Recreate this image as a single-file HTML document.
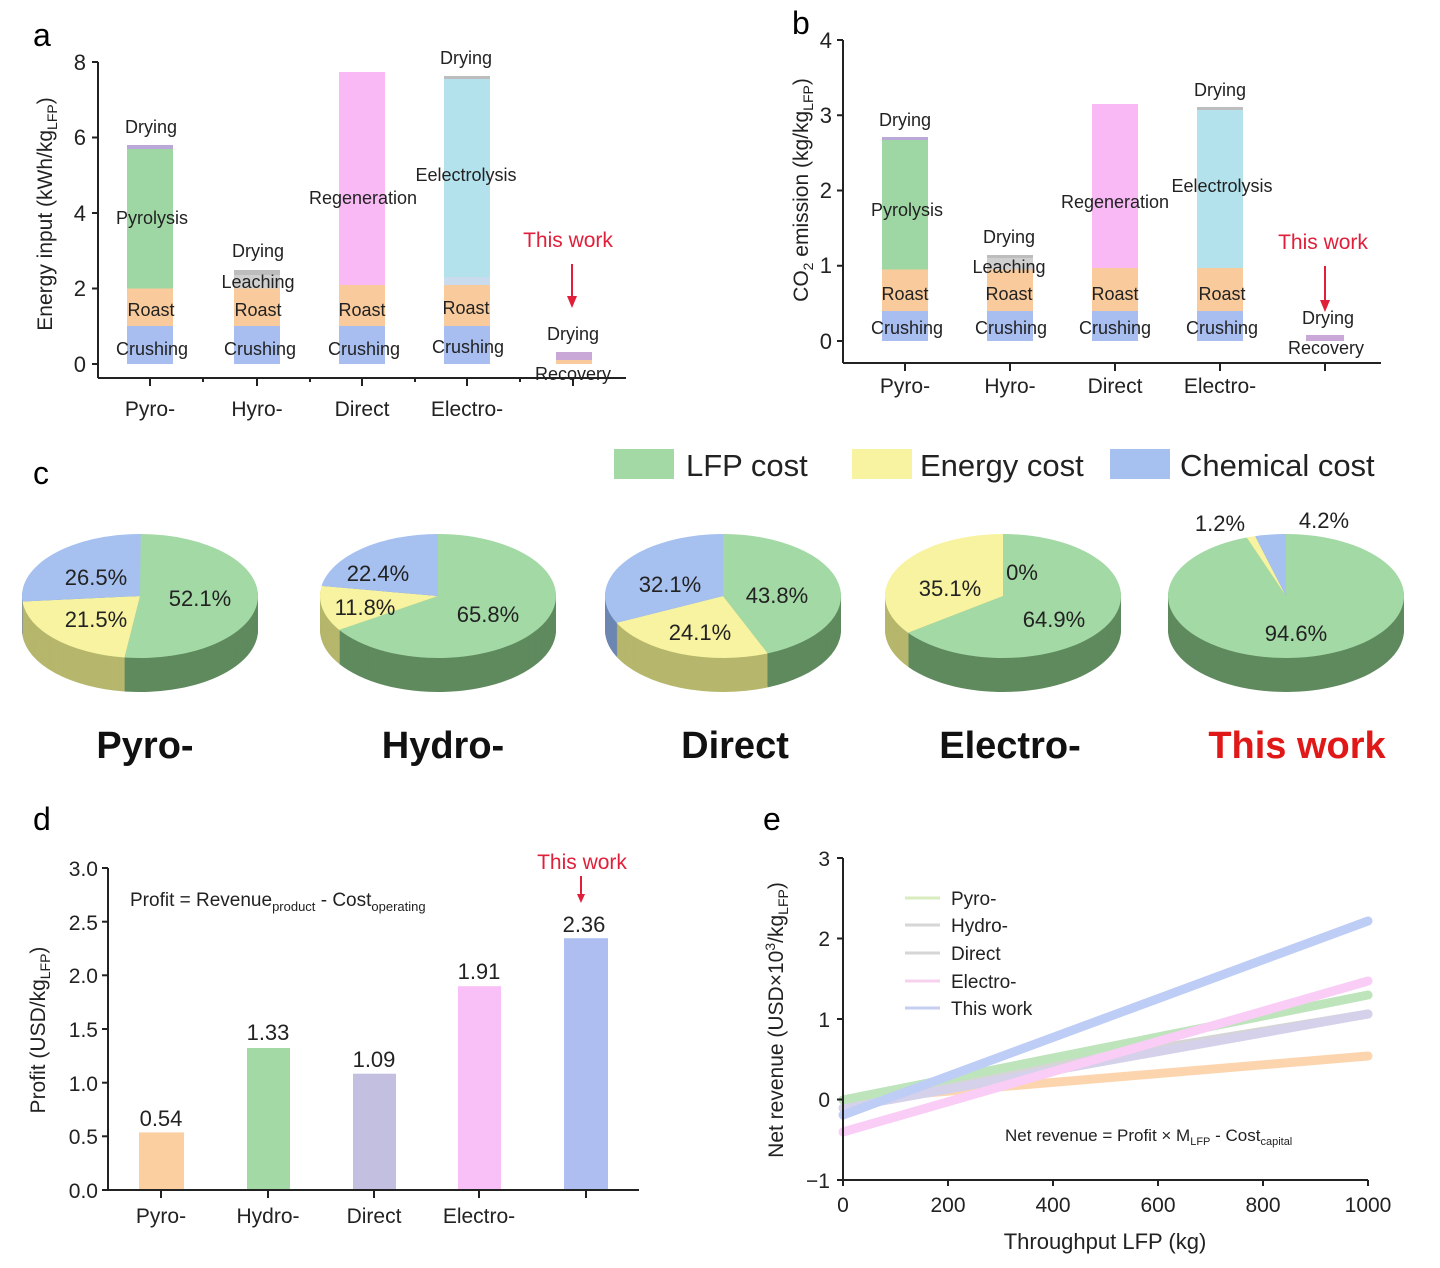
<!DOCTYPE html>
<html><head><meta charset="utf-8"><style>
body{margin:0;background:#fff}
svg{display:block;font-family:"Liberation Sans",Arial,sans-serif}
</style></head><body>
<svg id="s" width="1440" height="1268" viewBox="0 0 1440 1268">
<g id="pies"></g>
<!-- ============ Panel a ============ -->
<text x="33" y="46" font-size="32">a</text>
<g>
<rect x="127" y="326" width="46" height="38" fill="#a8bdf0"/>
<rect x="127" y="288.5" width="46" height="37.5" fill="#f9cb9c"/>
<rect x="127" y="148.8" width="46" height="139.7" fill="#9fd7a4"/>
<rect x="127" y="145" width="46" height="4" fill="#b9a8d8"/>
<rect x="234" y="326" width="46" height="38" fill="#a8bdf0"/>
<rect x="234" y="288.5" width="46" height="37.5" fill="#f9cb9c"/>
<rect x="234" y="275" width="46" height="13.5" fill="#cfcfcf"/>
<rect x="234" y="270" width="46" height="5" fill="#bdbdbd"/>
<rect x="339" y="326" width="46" height="38" fill="#a8bdf0"/>
<rect x="339" y="285" width="46" height="41" fill="#f9cb9c"/>
<rect x="339" y="72" width="46" height="213" fill="#f8b9f4"/>
<rect x="444" y="326" width="46" height="38" fill="#a8bdf0"/>
<rect x="444" y="285" width="46" height="41" fill="#f9cb9c"/>
<rect x="444" y="277" width="46" height="8" fill="#c8dcee"/>
<rect x="444" y="79" width="46" height="198" fill="#b3e2ed"/>
<rect x="444" y="76" width="46" height="3" fill="#bdbdbd"/>
<rect x="556" y="360" width="36" height="4" fill="#f9cb9c"/>
<rect x="556" y="352" width="36" height="8" fill="#c9a8d8"/>
<line x1="98" y1="62" x2="98" y2="378" stroke="#222" stroke-width="2"/>
<line x1="98" y1="378" x2="626" y2="378" stroke="#222" stroke-width="2"/>
<g stroke="#222" stroke-width="2">
<line x1="92" y1="62" x2="98" y2="62"/><line x1="92" y1="137.5" x2="98" y2="137.5"/><line x1="92" y1="213" x2="98" y2="213"/><line x1="92" y1="288.5" x2="98" y2="288.5"/><line x1="92" y1="364" x2="98" y2="364"/>
<line x1="150" y1="378" x2="150" y2="386"/><line x1="257" y1="378" x2="257" y2="386"/><line x1="362" y1="378" x2="362" y2="386"/><line x1="467" y1="378" x2="467" y2="386"/><line x1="573" y1="378" x2="573" y2="386"/>
<line x1="203" y1="378" x2="203" y2="382"/><line x1="310" y1="378" x2="310" y2="382"/><line x1="415" y1="378" x2="415" y2="382"/><line x1="520" y1="378" x2="520" y2="382"/>
</g>
<g font-size="22" text-anchor="end" fill="#222">
<text x="86" y="70">8</text><text x="86" y="145">6</text><text x="86" y="221">4</text><text x="86" y="296">2</text><text x="86" y="372">0</text>
</g>
<g font-size="21" text-anchor="middle" fill="#222">
<text x="150" y="416">Pyro-</text><text x="257" y="416">Hyro-</text><text x="362" y="416">Direct</text><text x="467" y="416">Electro-</text>
</g>
<text transform="translate(52,214) rotate(-90)" font-size="21" text-anchor="middle" fill="#222">Energy input (kWh/kg<tspan font-size="14" dy="5">LFP</tspan><tspan dy="-5">)</tspan></text>
<g font-size="18" text-anchor="middle" fill="#222">
<text x="151" y="133">Drying</text><text x="152" y="224">Pyrolysis</text><text x="151" y="316">Roast</text><text x="152" y="355">Crushing</text>
<text x="258" y="257">Drying</text><text x="258" y="288">Leaching</text><text x="258" y="316">Roast</text><text x="260" y="355">Crushing</text>
<text x="363" y="204">Regeneration</text><text x="362" y="316">Roast</text><text x="364" y="355">Crushing</text>
<text x="466" y="64">Drying</text><text x="466" y="181">Eelectrolysis</text><text x="466" y="314">Roast</text><text x="468" y="353">Crushing</text>
<text x="573" y="340">Drying</text><text x="573" y="380">Recovery</text>
</g>
<text x="568" y="247" font-size="21" text-anchor="middle" fill="#e0203a">This work</text>
<line x1="572" y1="264" x2="572" y2="298" stroke="#e0203a" stroke-width="2"/>
<polygon points="567,296 577,296 572,308" fill="#e0203a"/>
</g>

<!-- ============ Panel b ============ -->
<text x="792" y="34" font-size="32">b</text>
<g>
<rect x="882" y="311" width="46" height="30" fill="#a8bdf0"/>
<rect x="882" y="269.5" width="46" height="41.5" fill="#f9cb9c"/>
<rect x="882" y="140" width="46" height="129.5" fill="#9fd7a4"/>
<rect x="882" y="137" width="46" height="3" fill="#b9a8d8"/>
<rect x="987" y="311" width="46" height="30" fill="#a8bdf0"/>
<rect x="987" y="269.5" width="46" height="41.5" fill="#f9cb9c"/>
<rect x="987" y="258" width="46" height="11.5" fill="#cfcfcf"/>
<rect x="987" y="255" width="46" height="3" fill="#bdbdbd"/>
<rect x="1092" y="311" width="46" height="30" fill="#a8bdf0"/>
<rect x="1092" y="268" width="46" height="43" fill="#f9cb9c"/>
<rect x="1092" y="104" width="46" height="164" fill="#f8b9f4"/>
<rect x="1197" y="311" width="46" height="30" fill="#a8bdf0"/>
<rect x="1197" y="268" width="46" height="43" fill="#f9cb9c"/>
<rect x="1197" y="110" width="46" height="158" fill="#b3e2ed"/>
<rect x="1197" y="107" width="46" height="3" fill="#bdbdbd"/>
<rect x="1306" y="335" width="38" height="6" fill="#c9a8d8"/>
<line x1="843" y1="40" x2="843" y2="363" stroke="#222" stroke-width="2"/>
<line x1="843" y1="363" x2="1381" y2="363" stroke="#222" stroke-width="2"/>
<g stroke="#222" stroke-width="2">
<line x1="837" y1="40" x2="843" y2="40"/><line x1="837" y1="115.25" x2="843" y2="115.25"/><line x1="837" y1="190.5" x2="843" y2="190.5"/><line x1="837" y1="265.75" x2="843" y2="265.75"/><line x1="837" y1="341" x2="843" y2="341"/>
<line x1="905" y1="363" x2="905" y2="371"/><line x1="1010" y1="363" x2="1010" y2="371"/><line x1="1115" y1="363" x2="1115" y2="371"/><line x1="1220" y1="363" x2="1220" y2="371"/><line x1="1325" y1="363" x2="1325" y2="371"/>
</g>
<g font-size="22" text-anchor="end" fill="#222">
<text x="832" y="48">4</text><text x="832" y="123">3</text><text x="832" y="198">2</text><text x="832" y="273">1</text><text x="832" y="349">0</text>
</g>
<g font-size="21" text-anchor="middle" fill="#222">
<text x="905" y="393">Pyro-</text><text x="1010" y="393">Hyro-</text><text x="1115" y="393">Direct</text><text x="1220" y="393">Electro-</text>
</g>
<text transform="translate(808,190) rotate(-90)" font-size="21" text-anchor="middle" fill="#222">CO<tspan font-size="14" dy="5">2</tspan><tspan dy="-5"> emission (kg/kg</tspan><tspan font-size="14" dy="5">LFP</tspan><tspan dy="-5">)</tspan></text>
<g font-size="18" text-anchor="middle" fill="#222">
<text x="905" y="126">Drying</text><text x="907" y="216">Pyrolysis</text><text x="905" y="300">Roast</text><text x="907" y="334">Crushing</text>
<text x="1009" y="243">Drying</text><text x="1009" y="273">Leaching</text><text x="1009" y="300">Roast</text><text x="1011" y="334">Crushing</text>
<text x="1115" y="208">Regeneration</text><text x="1115" y="300">Roast</text><text x="1115" y="334">Crushing</text>
<text x="1220" y="96">Drying</text><text x="1222" y="192">Eelectrolysis</text><text x="1222" y="300">Roast</text><text x="1222" y="334">Crushing</text>
<text x="1328" y="324">Drying</text><text x="1326" y="354">Recovery</text>
</g>
<text x="1323" y="249" font-size="21" text-anchor="middle" fill="#e0203a">This work</text>
<line x1="1325" y1="266" x2="1325" y2="302" stroke="#e0203a" stroke-width="2"/>
<polygon points="1320,300 1330,300 1325,312" fill="#e0203a"/>
</g>

<!-- ============ Panel c ============ -->
<text x="33" y="484" font-size="32">c</text>
<rect x="614" y="449" width="60" height="30" fill="#a3d9a5"/>
<text x="686" y="476" font-size="31" fill="#222">LFP cost</text>
<rect x="852" y="449" width="60" height="30" fill="#f7f3a0"/>
<text x="920" y="476" font-size="31" fill="#222">Energy cost</text>
<rect x="1110" y="449" width="60" height="30" fill="#a6c1f0"/>
<text x="1180" y="476" font-size="31" fill="#222">Chemical cost</text>
<g font-size="22" fill="#222" text-anchor="middle">
<text x="96" y="585">26.5%</text><text x="200" y="606">52.1%</text><text x="96" y="627">21.5%</text>
<text x="378" y="581">22.4%</text><text x="365" y="615">11.8%</text><text x="488" y="622">65.8%</text>
<text x="670" y="592">32.1%</text><text x="777" y="603">43.8%</text><text x="700" y="640">24.1%</text>
<text x="950" y="596">35.1%</text><text x="1022" y="580">0%</text><text x="1054" y="627">64.9%</text>
<text x="1220" y="531">1.2%</text><text x="1324" y="528">4.2%</text><text x="1296" y="641">94.6%</text>
</g>
<g font-size="38" font-weight="bold" text-anchor="middle" fill="#111">
<text x="145" y="758">Pyro-</text><text x="443" y="758">Hydro-</text><text x="735" y="758">Direct</text><text x="1010" y="758">Electro-</text>
<text x="1297" y="758" fill="#e01818">This work</text>
</g>

<!-- ============ Panel d ============ -->
<text x="33" y="830" font-size="32">d</text>
<g>
<rect x="139" y="1132.4" width="45" height="57.6" fill="#fbcf9f"/>
<rect x="247" y="1048" width="43" height="142" fill="#a3d9a5"/>
<rect x="353" y="1073.7" width="43" height="116.3" fill="#c2bfe0"/>
<rect x="458" y="986.2" width="43" height="203.8" fill="#f9c0f7"/>
<rect x="564" y="938.2" width="44" height="251.8" fill="#aebef0"/>
<line x1="108" y1="868" x2="108" y2="1190" stroke="#222" stroke-width="2"/>
<line x1="108" y1="1190" x2="639" y2="1190" stroke="#222" stroke-width="2"/>
<g stroke="#222" stroke-width="2">
<line x1="102" y1="868" x2="108" y2="868"/><line x1="102" y1="921.7" x2="108" y2="921.7"/><line x1="102" y1="975.3" x2="108" y2="975.3"/><line x1="102" y1="1029" x2="108" y2="1029"/><line x1="102" y1="1082.7" x2="108" y2="1082.7"/><line x1="102" y1="1136.3" x2="108" y2="1136.3"/><line x1="102" y1="1190" x2="108" y2="1190"/>
<line x1="161" y1="1190" x2="161" y2="1198"/><line x1="268" y1="1190" x2="268" y2="1198"/><line x1="374" y1="1190" x2="374" y2="1198"/><line x1="479" y1="1190" x2="479" y2="1198"/><line x1="586" y1="1190" x2="586" y2="1198"/>
</g>
<g font-size="21" text-anchor="end" fill="#222">
<text x="98" y="876">3.0</text><text x="98" y="930">2.5</text><text x="98" y="983">2.0</text><text x="98" y="1037">1.5</text><text x="98" y="1091">1.0</text><text x="98" y="1144">0.5</text><text x="98" y="1198">0.0</text>
</g>
<g font-size="21" text-anchor="middle" fill="#222">
<text x="161" y="1223">Pyro-</text><text x="268" y="1223">Hydro-</text><text x="374" y="1223">Direct</text><text x="479" y="1223">Electro-</text>
</g>
<g font-size="22" text-anchor="middle" fill="#222">
<text x="161" y="1126">0.54</text><text x="268" y="1040">1.33</text><text x="374" y="1067">1.09</text><text x="479" y="979">1.91</text><text x="584" y="932">2.36</text>
</g>
<text x="130" y="906" font-size="19" fill="#222">Profit = Revenue<tspan font-size="13" dy="5">product</tspan><tspan dy="-5"> - Cost</tspan><tspan font-size="13" dy="5">operating</tspan></text>
<text x="582" y="869" font-size="21" text-anchor="middle" fill="#e0203a">This work</text>
<line x1="581" y1="876" x2="581" y2="896" stroke="#e0203a" stroke-width="2"/>
<polygon points="577,894 585,894 581,903" fill="#e0203a"/>
<text transform="translate(45,1030) rotate(-90)" font-size="21" text-anchor="middle" fill="#222">Profit (USD/kg<tspan font-size="14" dy="5">LFP</tspan><tspan dy="-5">)</tspan></text>
</g>

<!-- ============ Panel e ============ -->
<text x="763" y="830" font-size="32">e</text>
<g>
<g stroke-width="9" stroke-linecap="round" opacity="0.75">
<line x1="843" y1="1100" x2="1368" y2="1056" stroke="#fbc894"/>
<line x1="843" y1="1100" x2="1368" y2="1014" stroke="#c8c8c8"/>
<line x1="843" y1="1108" x2="1368" y2="1014" stroke="#c7c2e4"/>
<line x1="843" y1="1100" x2="1368" y2="995" stroke="#a9dca6"/>
<line x1="843" y1="1132" x2="1368" y2="981" stroke="#f8bdf3"/>
<line x1="843" y1="1115" x2="1368" y2="921" stroke="#a9bdf2"/>
</g>
<line x1="843" y1="858" x2="843" y2="1180" stroke="#222" stroke-width="2"/>
<line x1="843" y1="1180" x2="1368" y2="1180" stroke="#222" stroke-width="2"/>
<g stroke="#222" stroke-width="2">
<line x1="837" y1="858" x2="843" y2="858"/><line x1="837" y1="938.5" x2="843" y2="938.5"/><line x1="837" y1="1019" x2="843" y2="1019"/><line x1="837" y1="1099.5" x2="843" y2="1099.5"/><line x1="837" y1="1180" x2="843" y2="1180"/>
<line x1="843" y1="1180" x2="843" y2="1186"/><line x1="948" y1="1180" x2="948" y2="1186"/><line x1="1053" y1="1180" x2="1053" y2="1186"/><line x1="1158" y1="1180" x2="1158" y2="1186"/><line x1="1263" y1="1180" x2="1263" y2="1186"/><line x1="1368" y1="1180" x2="1368" y2="1186"/>
</g>
<g font-size="21" text-anchor="end" fill="#222">
<text x="830" y="866">3</text><text x="830" y="946">2</text><text x="830" y="1027">1</text><text x="830" y="1107">0</text><text x="830" y="1188">−1</text>
</g>
<g font-size="21" text-anchor="middle" fill="#222">
<text x="843" y="1212">0</text><text x="948" y="1212">200</text><text x="1053" y="1212">400</text><text x="1158" y="1212">600</text><text x="1263" y="1212">800</text><text x="1368" y="1212">1000</text>
</g>
<text x="1105" y="1249" font-size="22" text-anchor="middle" fill="#222">Throughput LFP (kg)</text>
<text transform="translate(783,1020) rotate(-90)" font-size="21" text-anchor="middle" fill="#222">Net revenue (USD×10<tspan font-size="14" dy="-8">3</tspan><tspan dy="8">/kg</tspan><tspan font-size="14" dy="5">LFP</tspan><tspan dy="-5">)</tspan></text>
<g stroke-width="3" opacity="0.8">
<line x1="905" y1="898" x2="940" y2="898" stroke="#d0e8b0"/>
<line x1="905" y1="925" x2="940" y2="925" stroke="#cccccc"/>
<line x1="905" y1="953" x2="940" y2="953" stroke="#cccccc"/>
<line x1="905" y1="981" x2="940" y2="981" stroke="#f4c8ea"/>
<line x1="905" y1="1008" x2="940" y2="1008" stroke="#b8c4ee"/>
</g>
<g font-size="19" fill="#222">
<text x="951" y="905">Pyro-</text><text x="951" y="932">Hydro-</text><text x="951" y="960">Direct</text><text x="951" y="988">Electro-</text><text x="951" y="1015">This work</text>
</g>
<text x="1005" y="1141" font-size="17" fill="#222">Net revenue = Profit × M<tspan font-size="11" dy="4">LFP</tspan><tspan dy="-4"> - Cost</tspan><tspan font-size="11" dy="4">capital</tspan></text>
</g>
</svg>
<script>
(function(){
var G='#a3d9a5',Y='#f7f3a0',B='#a6c1f0';
var dark={'#a3d9a5':'#5f8a5e','#f7f3a0':'#b6b66c','#a6c1f0':'#6d86b2'};
var pies=[[140,[[G,52.1],[Y,21.5],[B,26.5]]],[438,[[G,65.8],[Y,11.8],[B,22.4]]],[723,[[G,43.8],[Y,24.1],[B,32.1]]],[1003,[[G,64.9],[B,0],[Y,35.1]]],[1286,[[G,94.6],[Y,1.2],[B,4.2]]]];
var rx=118,ry=62,cy=596,depth=34,ns='http://www.w3.org/2000/svg',g=document.getElementById('pies');
function slice(cx,cy,a0,a1,col){
 if(a1-a0<0.0001)return;
 var p=document.createElementNS(ns,'path');
 var x0=cx+rx*Math.sin(a0),y0=cy-ry*Math.cos(a0),x1=cx+rx*Math.sin(a1),y1=cy-ry*Math.cos(a1);
 var large=(a1-a0)>Math.PI?1:0;
 p.setAttribute('d','M'+cx+','+cy+'L'+x0+','+y0+'A'+rx+','+ry+' 0 '+large+' 1 '+x1+','+y1+'Z');
 p.setAttribute('fill',col);g.appendChild(p);
}
pies.forEach(function(pp){
 var cx=pp[0];
 for(var d=depth;d>=0;d-=1){
  var a=0;
  pp[1].forEach(function(s){var a1=a+s[1]/100*2*Math.PI;slice(cx,cy+d,a,a1,d==0?s[0]:dark[s[0]]);a=a1;});
 }
});
})();
</script>
</body></html>
